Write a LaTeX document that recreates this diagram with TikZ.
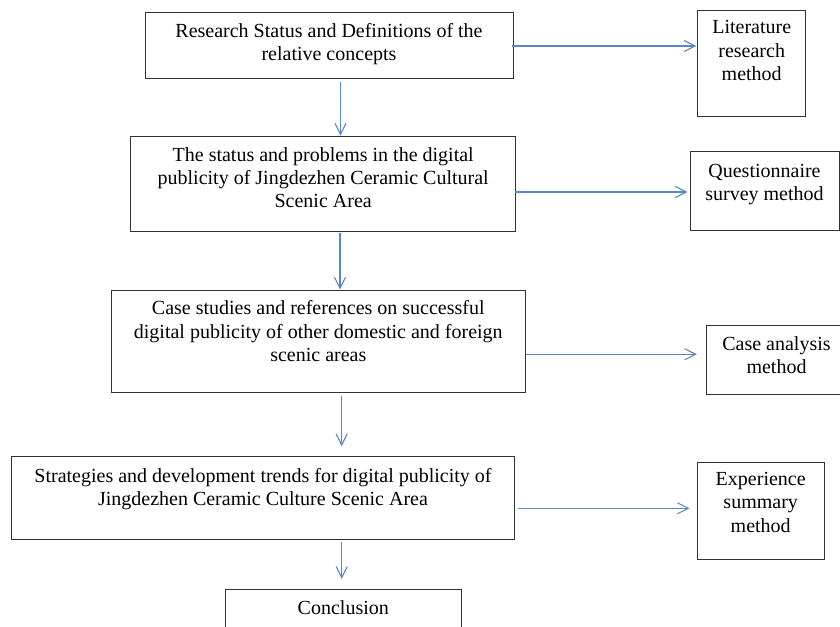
\documentclass[tikz,border=0pt]{standalone}
\usepackage{fontspec}
\setmainfont{Liberation Serif}
\usepackage{tikz}
\usetikzlibrary{arrows.meta,calc,positioning}
\definecolor{arrowblue}{RGB}{88,136,198}
% box text: width, height, top-to-baseline, lines
\newcommand{\stagebox}[4]{\parbox[c][#2][t]{#1}{\centering\fontsize{20}{23.3}\selectfont
  \vspace*{\dimexpr #3-16pt\relax}\rule{0pt}{16pt}#4\par}}
\tikzset{
  stage/.style={draw=black!80, line width=0.9pt, inner sep=0pt, fill=white},
  flow/.style={draw=arrowblue, line width=1.1pt, -{Straight Barb[length=11pt,width=11pt]}}
}

\begin{document}
\begin{tikzpicture}[x=1pt,y=-1pt]
\useasboundingbox (0,0) rectangle (840,626);
\clip (0,0) rectangle (840,626);

% main stages
\node[stage] (s1) at (329,45) {\stagebox{368pt}{66pt}{25.3pt}{Research Status and Definitions of the\\ relative concepts}};
\node[stage] (s2) at (323.2,183.5) {\stagebox{385pt}{95pt}{25.3pt}{The status and problems in the digital\\ publicity of Jingdezhen Ceramic Cultural\\ Scenic Area}};
\node[stage] (s3) at (318.3,341.3) {\stagebox{414.7pt}{102.7pt}{24.9pt}{Case studies and references on successful\\ digital publicity of other domestic and foreign\\ scenic areas}};
\node[stage] (s4) at (263,497.8) {\stagebox{502.6pt}{82.3pt}{25.6pt}{Strategies and development trends for digital publicity of\\ Jingdezhen Ceramic Culture Scenic Area}};
\node[stage] (s5) at (343.3,614.3) {\stagebox{236.7pt}{50pt}{25.3pt}{Conclusion}};

% methods
\node[stage] (m1) at (751.7,63) {\stagebox{108pt}{106pt}{23.9pt}{Literature\\ research\\ method}};
\node[stage] (m2) at (764.5,190.8) {\stagebox{149pt}{78.3pt}{25.6pt}{Questionnaire\\ survey method}};
\node[stage] (m3) at (776.5,359.8) {\stagebox{141pt}{68.3pt}{24.9pt}{Case analysis\\ method}};
\node[stage] (m4) at (760.7,510.7) {\stagebox{126.7pt}{96.7pt}{23.3pt}{Experience\\ summary\\ method}};

% downward flow
\draw[flow, shorten <=3.7pt] ([xshift=11.5pt]s1.south) -- ([xshift=11.5pt]s1.south |- s2.north);
\draw[flow, shorten <=2pt] ([xshift=16.8pt]s2.south) -- ([xshift=16.8pt]s2.south |- s3.north);
\draw[flow, shorten <=3.3pt, shorten >=10pt] ([xshift=23.4pt]s3.south) -- ([xshift=23.4pt]s3.south |- s4.north);
\draw[flow, shorten <=2.7pt, shorten >=10pt] ([xshift=78.7pt]s4.south) -- ([xshift=78.7pt]s4.south |- s5.north);

% to the methods
\draw[flow, shorten <=-1.3pt, shorten >=1pt] ([yshift=-1pt]s1.east) -- ([yshift=-1pt]s1.east -| m1.west);
\draw[flow, shorten <=-1pt, shorten >=2pt] ([yshift=-8.5pt]s2.east) -- ([yshift=-8.5pt]s2.east -| m2.west);
\draw[flow, shorten >=8.7pt] ([yshift=-13pt]s3.east) -- ([yshift=-13pt]s3.east -| m3.west);
\draw[flow, shorten <=3.7pt, shorten >=7.3pt] ([yshift=-10.5pt]s4.east) -- ([yshift=-10.5pt]s4.east -| m4.west);
\end{tikzpicture}
\end{document}
